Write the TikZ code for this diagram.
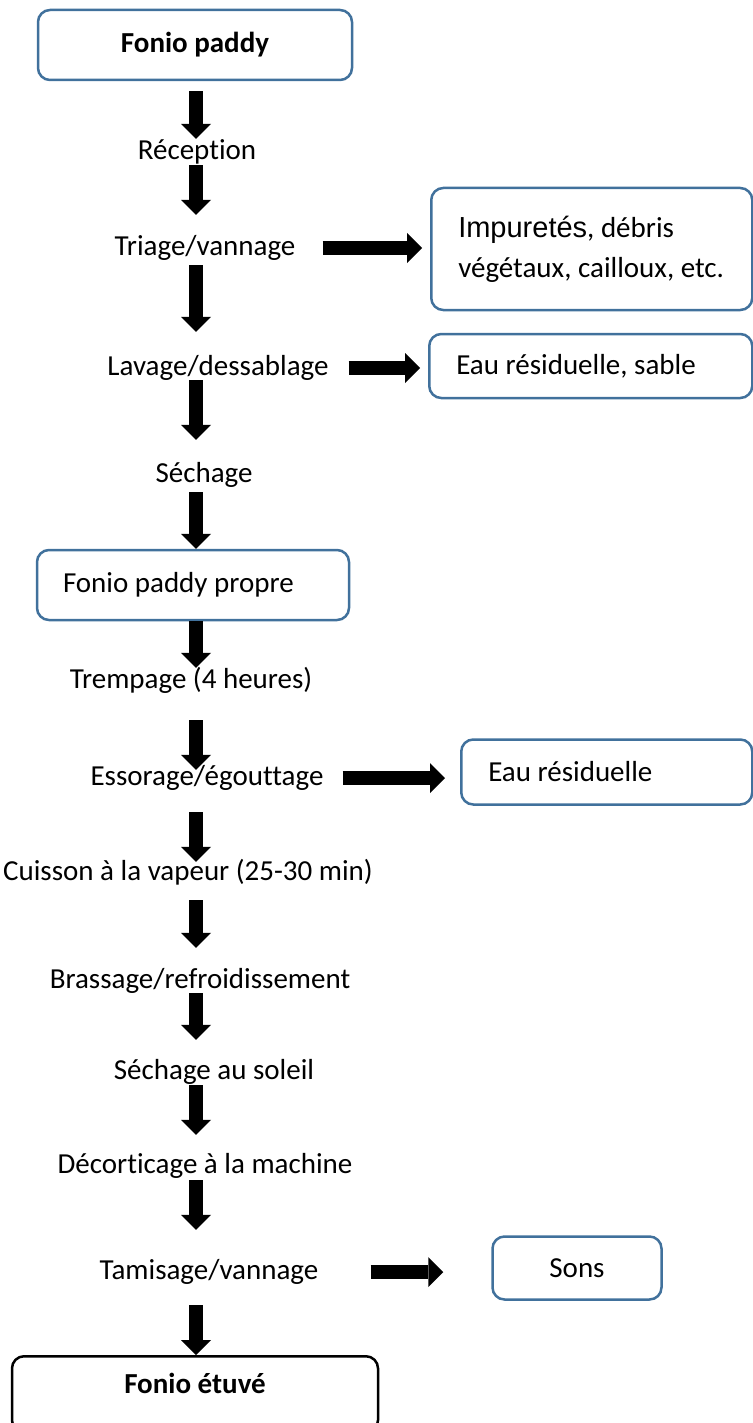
\documentclass[tikz,border=0pt]{standalone}
\usepackage{fontspec}
\setmainfont{Carlito}[RawFeature=-liga]
\newfontfamily\arialf{Liberation Sans}
\usepackage{tikz}
\usetikzlibrary{arrows.meta}
\definecolor{boxc}{HTML}{41719C}
\tikzset{
  ar/.style={line width=14pt,-{Triangle[length=15pt,width=30pt,line width=0pt]}},
  stp/.style={font=\fontsize{29}{40}\selectfont,inner sep=0pt,text height=20pt,text depth=6pt},
  box/.style={draw=boxc,line width=2.5pt,rounded corners=12pt,font=\fontsize{29}{40}\selectfont}
}
\newcommand{\dn}[4]{\draw[ar,shorten <=#3pt,shorten >=#4pt] (#1.south-|col) -- (#2.north-|col);}

\begin{document}
\begin{tikzpicture}[x=1pt,y=-1pt]
\useasboundingbox (0,0) rectangle (752,1423);
\coordinate (col) at (196,0);
\node[box,minimum width=314pt,minimum height=70pt] (fp) at (195,45) {\textbf{Fonio paddy}};
\node[stp] (rec) at (197,153) {Réception};
\node[stp] (tri) at (205,248) {Triage/vannage};
\node[box,anchor=west,minimum height=122pt,text width=267pt,inner xsep=27pt,align=flush left] (imp) at (430,249) {{\arialf Impuretés}, débris\\végétaux, cailloux, etc.};
\node[stp] (lav) at (218,368) {Lavage/dessablage};
\node[box,anchor=west,minimum height=64pt,text width=269pt,inner xsep=27pt,align=flush left] (eaus) at (428,366) {Eau résiduelle, sable};
\node[stp] (sech) at (204,475) {Séchage};
\node[box,minimum height=70pt,text width=260pt,inner xsep=26pt,align=flush left] (fpp) at (193,585) {Fonio paddy propre};
\node[stp] (trem) at (191,681) {Trempage (4 heures)};
\node[stp] (ess) at (207,778) {Essorage/égouttage};
\node[box,anchor=west,minimum height=65pt,text width=237pt,inner xsep=27pt,align=flush left] (eau) at (460,772) {Eau résiduelle};
\node[stp] (cuis) at (188,873) {Cuisson à la vapeur (25-30 min)};
\node[stp] (bras) at (200,981) {Brassage/refroidissement};
\node[stp] (sol) at (214,1072) {Séchage au soleil};
\node[stp] (dec) at (205,1166) {Décorticage à la machine};
\node[stp] (tam) at (209,1272) {Tamisage/vannage};
\node[box,minimum width=169pt,minimum height=63pt] (sons) at (577,1268) {Sons};
\node[box,draw=black,anchor=north,minimum width=366pt,minimum height=76pt,text height=20pt,text depth=22pt] (etv) at (195,1355) {\textbf{Fonio étuvé}};
% main line
\dn{fp}{rec}{10}{1}
\dn{rec}{tri}{-1}{20}
\dn{tri}{lav}{4}{23}
\dn{lav}{sech}{-1}{22}
\dn{sech}{fpp}{4}{0}
\dn{fpp}{trem}{0}{0}
\dn{trem}{ess}{26}{-5}
\dn{ess}{cuis}{21}{-2}
\dn{cuis}{bras}{14}{20}
\dn{bras}{sol}{-1}{19}
\dn{sol}{dec}{0}{18}
\dn{dec}{tam}{1}{29}
\dn{tam}{etv}{20}{0}
% side outputs
\draw[ar,shorten <=27pt,shorten >=8pt] (tri.east) -- (imp.west|-tri.east);
\draw[ar,shorten <=20pt,shorten >=8pt] (lav.east) -- (eaus.west|-lav.east);
\draw[ar,shorten <=19pt,shorten >=15pt] (ess.east) -- (eau.west|-ess.east);
\draw[ar,shorten <=52pt,shorten >=48pt] (tam.east) -- (sons.west|-tam.east);
\end{tikzpicture}
\end{document}
